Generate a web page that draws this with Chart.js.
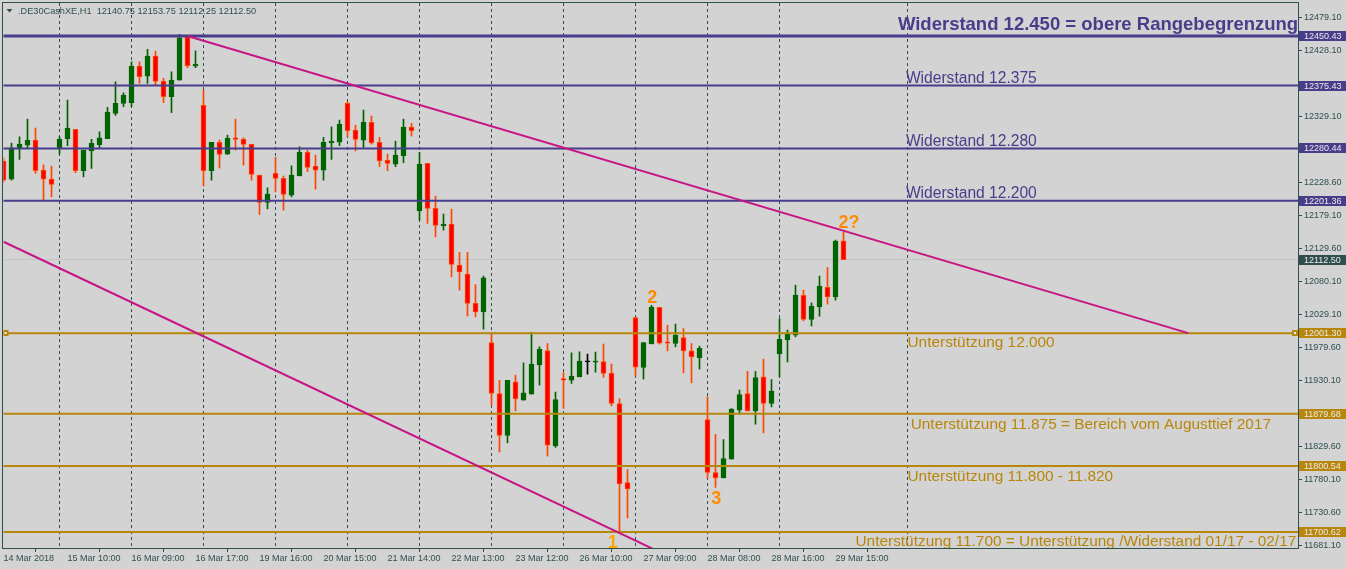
<!DOCTYPE html>
<html>
<head>
<meta charset="utf-8">
<title>DE30 H1</title>
<script src="https://cdn.jsdelivr.net/npm/chart.js@4.4.1/dist/chart.umd.min.js"></script>
<style>
  html, body { margin: 0; padding: 0; background: #d3d3d3; overflow: hidden; }
</style>
</head>
<body>
<canvas id="myChart" width="1346" height="569"></canvas>
<script>
// one label every 8 bars
const dateLabels = ['14 Mar 2018', '15 Mar 10:00', '16 Mar 09:00', '16 Mar 17:00', '19 Mar 16:00', '20 Mar 15:00', '21 Mar 14:00',
  '22 Mar 13:00', '23 Mar 12:00', '26 Mar 10:00', '27 Mar 09:00', '28 Mar 08:00', '28 Mar 16:00', '29 Mar 15:00'];

const opens = [12261.4, 12234.2, 12280.6, 12285.6, 12293.1, 12247.8, 12234.2, 12281.5, 12295.1, 12309.3,
  12246.7, 12276.9, 12286.0, 12295.1, 12333.5, 12348.6, 12349.5, 12405.0, 12389.9, 12420.1,
  12381.9, 12358.6, 12383.8, 12449.3, 12405.0, 12345.6, 12246.7, 12289.6, 12272.0, 12296.6,
  12294.6, 12286.6, 12240.2, 12198.9, 12242.8, 12235.2, 12210.0, 12239.1, 12274.5, 12253.8,
  12247.8, 12289.0, 12290.1, 12348.6, 12308.2, 12293.1, 12319.9, 12289.6, 12262.4, 12256.8,
  12269.4, 12312.8, 12186.2, 12257.9, 12189.9, 12163.5, 12166.1, 12104.1, 12090.5, 12046.2,
  12033.5, 11987.2, 11910.1, 11846.6, 11927.7, 11900.0, 11909.1, 11953.4, 11975.1, 11830.9,
  11932.8, 11930.2, 11935.2, 11957.9, 11957.5, 11958.5, 11940.8, 11895.0, 11775.6, 12025.0,
  11949.4, 11985.1, 12040.2, 11987.2, 11985.7, 11994.8, 11974.5, 11964.0, 11870.8, 11790.7,
  11782.5, 11810.8, 11884.9, 11910.1, 11883.8, 11935.2, 11895.0, 11970.0, 11991.2, 11998.3,
  12058.3, 12022.0, 12041.1, 12070.4, 12056.2, 12140.75];
const highs = [12265.9, 12288.6, 12298.1, 12324.9, 12311.3, 12255.8, 12253.8, 12298.1, 12353.6, 12309.3,
  12278.0, 12294.2, 12305.7, 12342.6, 12381.3, 12364.6, 12411.5, 12411.5, 12430.3, 12427.7,
  12386.4, 12396.4, 12452.9, 12451.9, 12428.1, 12368.7, 12289.6, 12293.1, 12300.7, 12324.9,
  12296.6, 12286.6, 12240.2, 12221.0, 12267.0, 12238.7, 12254.3, 12283.0, 12278.0, 12270.4,
  12297.2, 12313.2, 12323.4, 12351.0, 12315.8, 12338.5, 12329.4, 12297.2, 12272.0, 12291.6,
  12324.9, 12318.4, 12274.5, 12257.9, 12208.4, 12181.2, 12188.8, 12123.3, 12123.3, 12074.9,
  12087.5, 12001.8, 11930.2, 11930.2, 11937.8, 11956.4, 12002.4, 11980.6, 11985.7, 11912.1,
  11941.9, 11971.5, 11973.0, 11969.6, 11972.6, 11984.7, 11954.4, 11902.6, 11795.2, 12025.0,
  11987.2, 12043.2, 12040.2, 12013.4, 12014.9, 12008.4, 11985.7, 11981.6, 11905.0, 11848.1,
  11840.6, 11887.5, 11915.1, 11943.8, 11943.8, 11962.0, 11931.3, 12023.5, 12005.8, 12073.9,
  12066.3, 12047.1, 12087.5, 12100.6, 12141.9, 12153.75];
const lows = [12229.6, 12232.6, 12263.9, 12280.6, 12242.8, 12202.4, 12207.4, 12272.0, 12284.5, 12243.7,
  12237.6, 12250.3, 12280.6, 12295.1, 12330.5, 12343.5, 12343.5, 12378.8, 12378.8, 12375.8,
  12349.5, 12334.4, 12383.8, 12402.4, 12402.4, 12224.0, 12232.6, 12251.2, 12271.5, 12278.0,
  12255.3, 12232.6, 12180.8, 12189.2, 12214.9, 12187.3, 12207.4, 12239.1, 12245.2, 12219.0,
  12232.6, 12263.9, 12284.5, 12298.1, 12276.9, 12282.1, 12287.1, 12252.8, 12246.7, 12252.8,
  12258.8, 12299.2, 12172.2, 12167.2, 12146.9, 12157.0, 12086.4, 12066.3, 12027.5, 12025.9,
  12007.4, 11892.4, 11821.8, 11835.4, 11883.8, 11900.0, 11909.1, 11922.7, 11815.3, 11828.5,
  11887.5, 11925.3, 11935.2, 11939.3, 11942.3, 11934.3, 11891.4, 11698.4, 11722.0, 11936.7,
  11931.8, 11985.1, 11984.7, 11974.5, 11980.6, 11941.3, 11926.2, 11946.9, 11781.6, 11768.0,
  11782.5, 11810.8, 11878.8, 11883.8, 11863.7, 11850.6, 11889.9, 11935.2, 11957.9, 11995.7,
  12019.9, 12012.3, 12027.0, 12045.2, 12051.2, 12112.25];
const closes = [12232.6, 12281.5, 12287.1, 12293.1, 12246.7, 12234.2, 12226.1, 12294.6, 12311.3, 12246.7,
  12278.0, 12288.1, 12296.6, 12335.5, 12348.6, 12361.2, 12405.0, 12388.8, 12420.1, 12381.9,
  12358.6, 12383.8, 12447.8, 12405.5, 12408.0, 12246.7, 12289.6, 12271.5, 12295.7, 12294.2,
  12286.6, 12241.3, 12198.9, 12211.5, 12235.2, 12211.0, 12240.2, 12274.5, 12251.8, 12247.8,
  12289.6, 12291.2, 12317.3, 12307.2, 12294.2, 12319.9, 12289.0, 12261.8, 12257.9, 12270.4,
  12312.8, 12307.2, 12256.8, 12189.9, 12164.1, 12166.1, 12105.2, 12094.0, 12046.2, 12033.5,
  12084.9, 11910.1, 11846.6, 11930.2, 11902.0, 11911.0, 11954.4, 11977.1, 11832.0, 11901.1,
  11930.2, 11936.3, 11959.0, 11957.9, 11959.0, 11940.4, 11895.0, 11773.4, 11765.9, 11949.9,
  11987.2, 12040.6, 11986.2, 11986.2, 11998.3, 11974.5, 11965.5, 11978.2, 11790.7, 11782.5,
  11811.9, 11886.4, 11908.6, 11883.8, 11934.3, 11895.0, 11913.6, 11991.8, 11999.8, 12058.8,
  12022.0, 12042.1, 12072.4, 12056.2, 12140.4, 12112.5];

const yTicks = [12479.10, 12428.10, 12329.10, 12228.60, 12179.10, 12129.60, 12080.10, 12029.10,
  11979.60, 11930.10, 11829.60, 11780.10, 11730.60, 11681.10];
const resistLevels = [12450.43, 12375.43, 12280.44, 12201.36];
const supportLevels = [12001.30, 11879.68, 11800.54, 11700.62];
const lastPrice = 12112.50;
const gridBars = [7, 16, 25, 34, 43, 52, 61, 70, 79, 88, 97, 113];
const upperTrend = [{x: 23, y: 12450.4}, {x: 148.1, y: 12001.3}];
const lowerTrend = [{x: 0, y: 12139.5}, {x: 84, y: 11659.2}];

const resistTexts = ['Widerstand 12.450 = obere Rangebegrenzung', 'Widerstand 12.375', 'Widerstand 12.280', 'Widerstand 12.200'];
const supportTexts = ['Unterstützung 12.000', 'Unterstützung 11.875 = Bereich vom Augusttief 2017',
  'Unterstützung 11.800 - 11.820', 'Unterstützung 11.700 = Unterstützung /Widerstand 01/17 - 02/17'];
const waveTexts = ['1', '2', '3', '2?'];
const titleText = '.DE30CashXE,H1  12140.75 12153.75 12112.25 12112.50';

const PURPLE = '#483D8B';
const GOLD = '#B8860B';
const FRAME = '#2F4F4F';

function candleKind(i) {
    if (closes[i] > opens[i]) return 'up';
    if (closes[i] < opens[i]) return 'down';
    return 'flat';
}
const bodyFill = opens.map((o, i) => ({up: '#006400', down: '#FF0000', flat: '#000000'})[candleKind(i)]);
const lineCol = opens.map((o, i) => ({up: '#006400', down: '#FF4500', flat: '#000000'})[candleKind(i)]);

const bodies = opens.map((o, i) => ({x: i, y: [o, closes[i]]}));
const wicks = lows.map((l, i) => ({x: i, y: [l, highs[i]]}));

function levelLine(v, col, w) {
    return {type: 'line', data: [{x: -2, y: v}, {x: 170, y: v}], borderColor: col, borderWidth: w,
        pointRadius: 0, order: 1, clip: 0};
}

const datasets = [
    {type: 'line', data: [{x: -2, y: lastPrice}, {x: 170, y: lastPrice}], borderColor: '#C4C4C4', borderWidth: 1, pointRadius: 0, order: 10, clip: 0},
    {type: 'bar', data: wicks, backgroundColor: lineCol, barThickness: 1, grouped: false, order: 4},
    {type: 'bar', data: bodies, backgroundColor: bodyFill, borderColor: lineCol, borderWidth: 1, borderSkipped: false,
        barThickness: 5, minBarLength: 1, grouped: false, order: 3},
];
resistLevels.forEach((v, i) => datasets.push(levelLine(v, PURPLE, i === 0 ? 3 : 2)));
supportLevels.forEach(v => datasets.push(levelLine(v, GOLD, 2)));
[upperTrend, lowerTrend].forEach(t => datasets.push({type: 'line', data: t, borderColor: '#C71585', borderWidth: 2, pointRadius: 0, order: 0, clip: 0}));

// text objects, anchored at bar index / price of the left baseline
const notes = [
    {text: resistTexts[0], bar: 111.8, price: 12459.4, font: 'bold 18.5px "Liberation Sans"', color: PURPLE, align: 'left'},
    {text: resistTexts[1], bar: 112.8, price: 12378.8, font: '15.6px "Liberation Sans"', color: PURPLE, align: 'left'},
    {text: resistTexts[2], bar: 112.8, price: 12284.5, font: '15.6px "Liberation Sans"', color: PURPLE, align: 'left'},
    {text: resistTexts[3], bar: 112.8, price: 12205.0, font: '15.6px "Liberation Sans"', color: PURPLE, align: 'left'},
    {text: supportTexts[0], bar: 113.0, price: 11980.6, font: '15.4px "Liberation Sans"', color: GOLD, align: 'left'},
    {text: supportTexts[1], bar: 113.4, price: 11857.2, font: '15.4px "Liberation Sans"', color: GOLD, align: 'left'},
    {text: supportTexts[2], bar: 113.0, price: 11777.5, font: '15.4px "Liberation Sans"', color: GOLD, align: 'left'},
    {text: supportTexts[3], bar: 106.5, price: 11680.3, font: '15.4px "Liberation Sans"', color: GOLD, align: 'left'},
    {text: waveTexts[0], bar: 76.15, price: 11676.6, font: 'bold 18px "Liberation Sans"', color: '#FFA500', align: 'center'},
    {text: waveTexts[1], bar: 81.1, price: 12046.2, font: 'bold 18px "Liberation Sans"', color: '#FF8C00', align: 'center'},
    {text: waveTexts[2], bar: 89.1, price: 11743.8, font: 'bold 18px "Liberation Sans"', color: '#FF8C00', align: 'center'},
    {text: waveTexts[3], bar: 105.7, price: 12159.6, font: 'bold 18px "Liberation Sans"', color: '#FF8C00', align: 'center'},
];

const mtOverlay = {
    id: 'mtOverlay',
    beforeDatasetsDraw(chart) {
        const {ctx, chartArea: a, scales: {x}} = chart;
        ctx.save();
        ctx.strokeStyle = FRAME;
        ctx.lineWidth = 1;
        ctx.setLineDash([3, 3]);
        gridBars.forEach(b => {
            const px = x.getPixelForValue(b);
            ctx.beginPath();
            ctx.moveTo(px, a.top);
            ctx.lineTo(px, a.bottom);
            ctx.stroke();
        });
        ctx.restore();
    },
    afterDatasetsDraw(chart) {
        const {ctx, chartArea: a, scales: {x, y}} = chart;
        ctx.save();
        ctx.beginPath();
        ctx.rect(a.left, a.top, a.right - a.left, a.bottom - a.top);
        ctx.clip();
        ctx.textBaseline = 'alphabetic';
        notes.forEach(n => {
            ctx.font = n.font;
            ctx.fillStyle = n.color;
            ctx.textAlign = n.align;
            ctx.fillText(n.text, x.getPixelForValue(n.bar), y.getPixelForValue(n.price));
        });
        // selected-line handles on 12001.30
        const hy = Math.round(y.getPixelForValue(supportLevels[0]));
        [a.left + 2, a.right - 3].forEach(hx => {
            ctx.fillStyle = GOLD;
            ctx.fillRect(hx - 3, hy - 3, 6, 6);
            ctx.fillStyle = '#F2F2F2';
            ctx.fillRect(hx - 1, hy - 1, 2, 2);
        });
        // title
        ctx.fillStyle = FRAME;
        ctx.beginPath();
        ctx.moveTo(6.5, 9);
        ctx.lineTo(12.5, 9);
        ctx.lineTo(9.5, 12.5);
        ctx.closePath();
        ctx.fill();
        ctx.font = '9.2px "Liberation Sans"';
        ctx.textAlign = 'left';
        ctx.fillText(titleText, 18, 14);
        ctx.restore();

        ctx.save();
        ctx.strokeStyle = FRAME;
        ctx.lineWidth = 1;
        ctx.strokeRect(a.left - 1, a.top - 0.5, a.right - a.left + 1.5, a.bottom - a.top + 1);
        ctx.restore();
    },
    afterDraw(chart) {
        const {ctx, chartArea: a, scales: {y}} = chart;
        const tags = [];
        resistLevels.forEach(v => tags.push([v, PURPLE]));
        supportLevels.forEach(v => tags.push([v, GOLD]));
        tags.push([lastPrice, FRAME]);
        ctx.save();
        ctx.font = '9px "Liberation Sans"';
        ctx.textBaseline = 'middle';
        ctx.textAlign = 'left';
        tags.forEach(([v, col]) => {
            const py = Math.round(y.getPixelForValue(v));
            ctx.fillStyle = col;
            ctx.fillRect(a.right + 1, py - 5, 48, 10);
            ctx.fillStyle = '#EAEAEA';
            ctx.fillText(v.toFixed(2), a.right + 6, py + 0.5);
        });
        ctx.restore();
    }
};

new Chart(document.getElementById('myChart'), {
    type: 'bar',
    data: {datasets: datasets},
    options: {
        responsive: false,
        animation: false,
        events: [],
        layout: {padding: {left: 3.5, top: 3, right: 0, bottom: 0}},
        plugins: {legend: {display: false}, tooltip: {enabled: false}},
        scales: {
            x: {
                type: 'linear',
                offset: false,
                min: 0,
                max: 161.8125,
                afterBuildTicks: s => { s.ticks = dateLabels.map((l, i) => ({value: i * 8})); },
                afterFit: s => { s.height = 21; s.paddingLeft = 0; s.paddingRight = 0; },
                grid: {drawOnChartArea: false, tickLength: 4, color: FRAME},
                border: {display: false},
                ticks: {
                    align: 'start',
                    maxRotation: 0,
                    autoSkip: false,
                    padding: 1,
                    color: FRAME,
                    font: {family: 'Liberation Sans', size: 9},
                    callback: v => dateLabels[Math.round(v / 8)]
                }
            },
            y: {
                type: 'linear',
                position: 'right',
                min: 11676.6,
                max: 12500.3,
                afterBuildTicks: s => { s.ticks = yTicks.map(v => ({value: v})); },
                afterFit: s => { s.width = 48; s.paddingTop = 0; s.paddingBottom = 0; },
                grid: {drawOnChartArea: false, tickLength: 4, color: FRAME},
                border: {display: false},
                ticks: {
                    padding: 2,
                    color: FRAME,
                    font: {family: 'Liberation Sans', size: 9},
                    callback: v => v.toFixed(2)
                }
            }
        }
    },
    plugins: [mtOverlay]
});
</script>
</body>
</html>
